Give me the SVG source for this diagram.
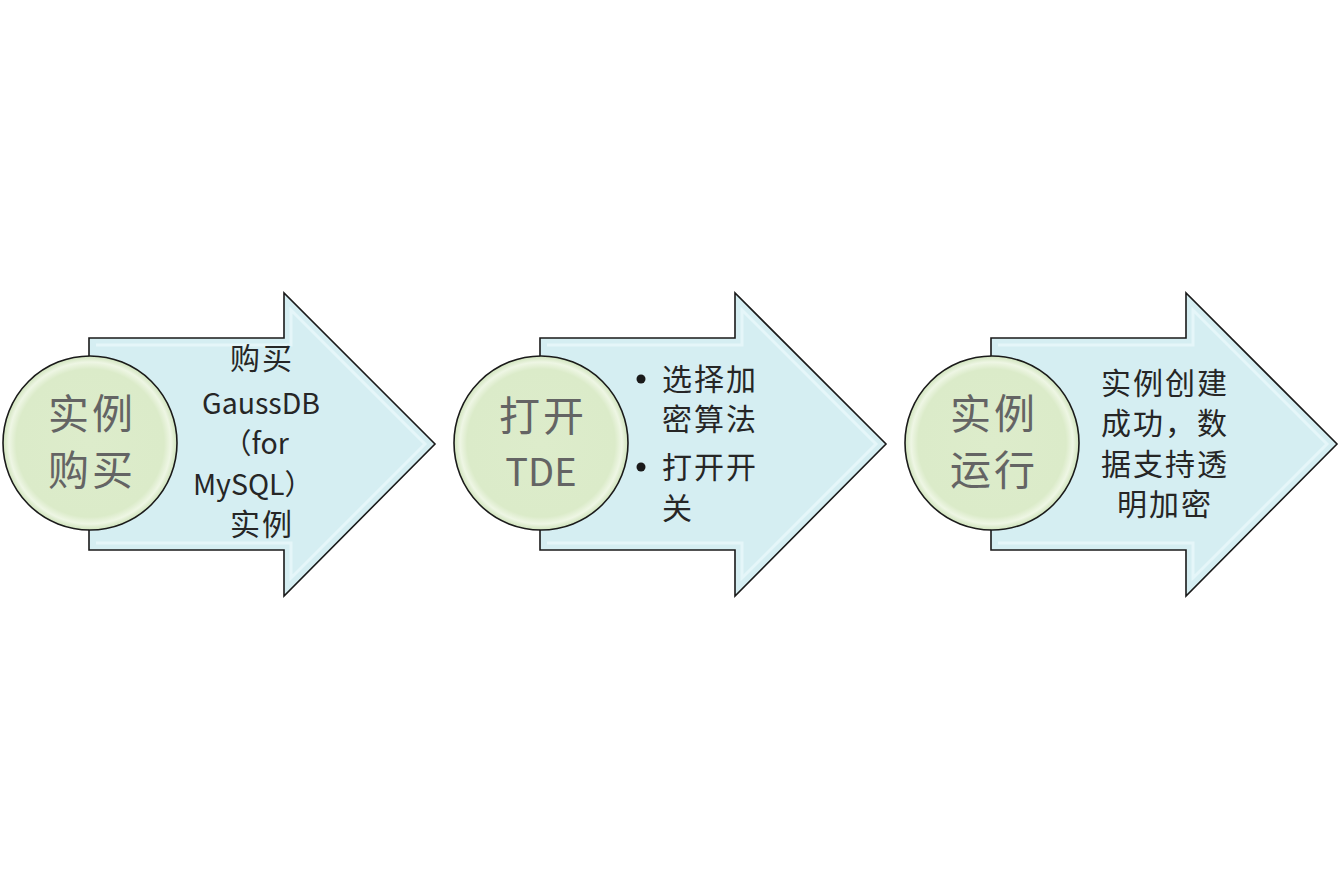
<svg xmlns="http://www.w3.org/2000/svg" width="1340" height="889" viewBox="0 0 1340 889">
<defs>
<radialGradient id="cg" cx="0.5" cy="0.5" r="0.5">
<stop offset="0" stop-color="#ddeccb"/>
<stop offset="0.85" stop-color="#dbebc9"/>
<stop offset="0.93" stop-color="#eef6e4"/>
<stop offset="1" stop-color="#cfe3bb"/>
</radialGradient>
<path id="arrow" d="M0,0 L195,0 L195,-45 L346,106 L195,258 L195,212 L0,212 Z"/>
<path id="bevel" d="M7,7 L202,7 L202,-28 L336,106 L202,240 L202,205 L7,205"/>
</defs>
<style>
.arr{fill:#d5eef2;stroke:#1a1a1a;stroke-width:1.6;stroke-linejoin:miter}
.bev{fill:none;stroke:#e8f7fa;stroke-width:3;opacity:0.8}
.circ{fill:url(#cg);stroke:#1a1a1a;stroke-width:1.6}
.ct{font-family:"Noto Sans CJK SC",sans-serif;font-size:41px;letter-spacing:3px;fill:#646464;text-anchor:middle}
.at{font-family:"Noto Sans CJK SC",sans-serif;font-size:30px;fill:#262626}
.ls{letter-spacing:2px}
.lt{font-size:28.5px}
.mid{text-anchor:middle}
</style>
<g id="step1">
<g transform="translate(89,338)"><use href="#arrow" class="arr"/><use href="#bevel" class="bev"/></g>
<circle cx="90" cy="443" r="87" class="circ"/>
<text class="ct" x="92" y="429">实例</text>
<text class="ct" x="92" y="485">购买</text>
<text class="at mid ls" x="262" y="369">购买</text>
<text class="at mid lt" x="261" y="414">GaussDB</text>
<text class="at mid lt" x="256" y="454">（for</text>
<text class="at mid lt" x="253" y="495">MySQL）</text>
<text class="at mid ls" x="262" y="535">实例</text>
</g>
<g id="step2">
<g transform="translate(540,338)"><use href="#arrow" class="arr"/><use href="#bevel" class="bev"/></g>
<circle cx="541" cy="443" r="87" class="circ"/>
<text class="ct" x="543" y="431">打开</text>
<text class="ct" x="541" y="486" style="font-size:38px;letter-spacing:0">TDE</text>
<circle cx="641" cy="379" r="4.5" fill="#1a1a1a"/>
<circle cx="641" cy="467" r="4.5" fill="#1a1a1a"/>
<text class="at ls" x="662" y="390">选择加</text>
<text class="at ls" x="662" y="430">密算法</text>
<text class="at ls" x="662" y="478">打开开</text>
<text class="at ls" x="662" y="519">关</text>
</g>
<g id="step3">
<g transform="translate(991,338)"><use href="#arrow" class="arr"/><use href="#bevel" class="bev"/></g>
<circle cx="992" cy="443" r="87" class="circ"/>
<text class="ct" x="994" y="429">实例</text>
<text class="ct" x="994" y="485">运行</text>
<text class="at mid ls" x="1165" y="394">实例创建</text>
<text class="at mid ls" x="1165" y="434">成功，数</text>
<text class="at mid ls" x="1165" y="475">据支持透</text>
<text class="at mid ls" x="1165" y="515">明加密</text>
</g>
<g id="connectors"></g>
</svg>
